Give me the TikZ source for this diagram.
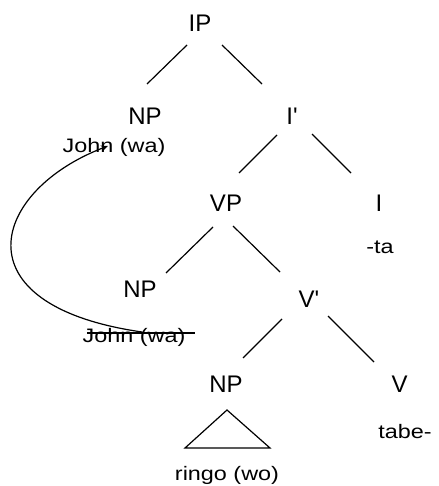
\documentclass[tikz,border=0pt]{standalone}
\usepackage{fontspec}
\setmainfont{Liberation Sans}
\newfontfamily\wordfont{Liberation Sans}[FakeStretch=1.2]
\usetikzlibrary{arrows.meta}
\begin{document}
\begin{tikzpicture}[x=1pt,y=-1pt,
  cat/.style={inner sep=0pt, anchor=base, font=\fontsize{24}{24}\selectfont},
  word/.style={inner sep=0pt, anchor=base, font=\wordfont\fontsize{19.5}{19.5}\selectfont},
  branch/.style={line width=1.2pt},
  movement/.style={line width=1.2pt, -{Stealth[length=7pt,width=6pt]}},
]
\useasboundingbox (0,0) rectangle (438,486);

% category labels
\node[cat] (IP)  at (200,32)    {IP};
\node[cat] (NPs) at (145,125)   {NP};
\node[cat] (Ibar) at (292,125)  {I\textquotesingle};
\node[cat] (VP)  at (226,211)   {VP};
\node[cat] (I)   at (379,211)   {I};
\node[cat] (NPt) at (140,297)   {NP};
\node[cat] (Vbar) at (309,307)  {V\textquotesingle};
\node[cat] (NPo) at (226,392)   {NP};
\node[cat] (V)   at (399.5,392) {V};

% lexical material
\node[word] (john)  at (114,153) {John (wa)};
\node[word] (ta)    at (380,253) {-ta};
\node[word] (trace) at (134,342) {John (wa)};
\node[word] (tabe)  at (405,438) {tabe-};
\node[word] (ringo) at (227,480) {ringo (wo)};

% branches
\draw[branch] ([shift={(-13,13)}]IP.base) -- ([shift={(2,-41)}]NPs.base);
\draw[branch] ([shift={(22,13)}]IP.base) -- ([shift={(-30,-41)}]Ibar.base);
\draw[branch] ([shift={(-15,10)}]Ibar.base) -- ([shift={(13,-38)}]VP.base);
\draw[branch] ([shift={(20,9)}]Ibar.base) -- ([shift={(-28,-38)}]I.base);
\draw[branch] ([shift={(-13,16)}]VP.base) -- ([shift={(26,-24)}]NPt.base);
\draw[branch] ([shift={(7,15)}]VP.base) -- ([shift={(-29,-35)}]Vbar.base);
\draw[branch] ([shift={(-27,12)}]Vbar.base) -- ([shift={(17,-34)}]NPo.base);
\draw[branch] ([shift={(19,9)}]Vbar.base) -- ([shift={(-25.5,-30)}]V.base);

% roof over the object NP
\draw[branch] ([shift={(1,18)}]NPo.base) -- ([shift={(-41,56)}]NPo.base)
  -- ([shift={(44,56)}]NPo.base) -- cycle;

% struck-out copy of the moved topic
\draw[line width=1.1pt] ([shift={(-47,-9)}]trace.base) -- ([shift={(61,-9)}]trace.base);

% movement arrow
\draw[movement] ([shift={(8,-10)}]trace.base)
  .. controls (-45,305) and (-8,190) .. ([shift={(-6,-7)}]john.base);
\end{tikzpicture}
\end{document}
